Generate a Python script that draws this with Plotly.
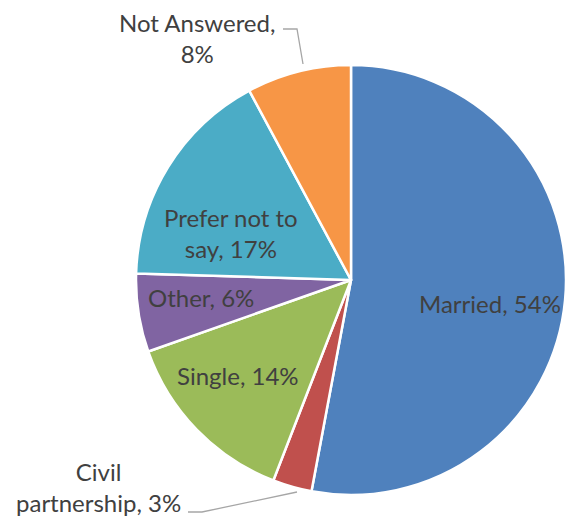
import plotly.graph_objects as go

# La página deja 8px de margen en el body: se compensa reduciendo el lienzo
OFF = 8
W, H = 574 - 2 * OFF, 527 - 2 * OFF

categorias = ['Married', 'Civil partnership', 'Single', 'Other', 'Prefer not to say', 'Not Answered']
porcentajes = [54, 3, 14, 6, 17, 8]
colores = ['#4F81BD', '#C0504D', '#9BBB59', '#8064A2', '#4BACC6', '#F79646']

# Cortes de línea tal como aparecen en las etiquetas
cortes = {
    'Civil partnership': ('Civil', 'partnership'),
    'Prefer not to say': ('Prefer not to', 'say'),
    'Not Answered': ('Not Answered', ''),
}

# Centro de cada etiqueta en píxeles de la imagen original
pos_etiquetas = {
    'Married': (490, 303),
    'Civil partnership': (98, 487),
    'Single': (238, 375),
    'Other': (201, 297),
    'Prefer not to say': (231, 233),
    'Not Answered': (197, 38),
}

FUENTE = 'Lato, Calibri, sans-serif'
GRIS_TEXTO = '#404040'


def px_x(x):
    return (x - OFF) / W


def px_y(y):
    return 1 - (y - OFF) / H


def texto_etiqueta(cat, val):
    if cat in cortes:
        a, b = cortes[cat]
        if b:
            return f'{a}<br>{b}, {val}%'
        return f'{a},<br>{val}%'
    return f'{cat}, {val}%'


fig = go.Figure(
    data=[go.Pie(
        labels=categorias,
        values=porcentajes,
        textinfo='none',
        sort=False,
        direction='clockwise',
        rotation=0,
        marker=dict(colors=colores, line=dict(color='white', width=2.5)),
        domain=dict(x=[px_x(136), 1], y=[px_y(501), px_y(59)]),
        hoverinfo='label+value',
    )]
)

for cat, val in zip(categorias, porcentajes):
    x, y = pos_etiquetas[cat]
    fig.add_annotation(
        x=px_x(x), y=px_y(y), xref='paper', yref='paper',
        xanchor='center', yanchor='middle',
        text=texto_etiqueta(cat, val), showarrow=False, align='center',
        font=dict(family=FUENTE, size=24, color=GRIS_TEXTO),
    )

# Líneas guía de las etiquetas exteriores
linea = dict(color='#A6A6A6', width=1.3)
fig.add_shape(type='path', xref='paper', yref='paper', line=linea,
              path=f'M {px_x(283)} {px_y(29)} L {px_x(297)} {px_y(29)} L {px_x(303)} {px_y(64)}')
fig.add_shape(type='path', xref='paper', yref='paper', line=linea,
              path=f'M {px_x(188)} {px_y(512)} L {px_x(202)} {px_y(512)} L {px_x(297)} {px_y(492)}')

fig.update_layout(
    width=W, height=H,
    margin=dict(l=0, r=0, t=0, b=0),
    showlegend=False,
    paper_bgcolor='white',
    plot_bgcolor='white',
)

fig.write_html('out.html')
